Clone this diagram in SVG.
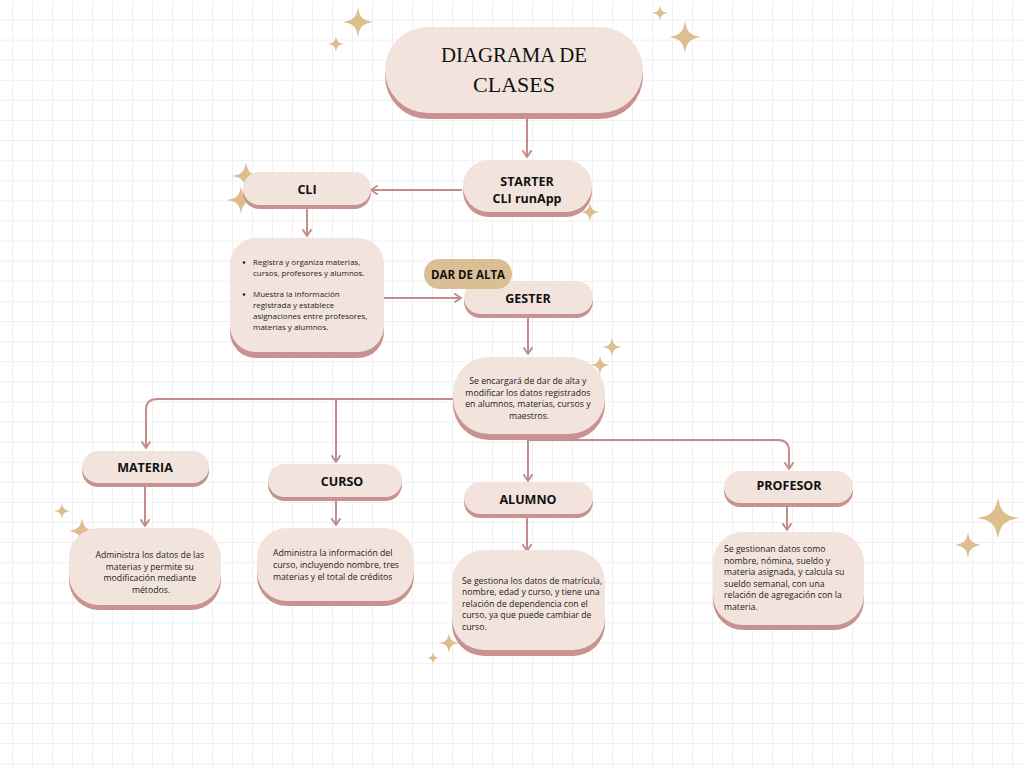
<svg xmlns="http://www.w3.org/2000/svg" xmlns:xlink="http://www.w3.org/1999/xlink" width="1024" height="768" viewBox="0 0 1024 768">
<style>
.node{fill:#f2e4dd}
.shadow{fill:#c7928f}
.conn{fill:none;stroke:#c48d8d;stroke-width:2}
.lbl{font-family:"Open Sans","Liberation Sans",sans-serif;font-weight:bold;font-size:12.5px;fill:#111;text-anchor:middle}
.body{font-family:"Open Sans","Liberation Sans",sans-serif;font-size:8.7px;fill:#222}
.small{font-size:8px}
.mid{text-anchor:middle}
.title{font-family:"Liberation Serif","DejaVu Serif",serif;font-size:22px;fill:#111;text-anchor:middle}
.star{fill:#dcbf8d}
</style>
<defs>
<pattern id="grid" patternUnits="userSpaceOnUse" x="12" y="19.5" width="20" height="20.1">
<path d="M0 0V20.1M0 0H20" stroke="#ebebeb" stroke-width="1.5" fill="none"/>
</pattern>
<path id="star" d="M0,-10 C1.2,-3 3,-1.2 10,0 C3,1.2 1.2,3 0,10 C-1.2,3 -3,1.2 -10,0 C-3,-1.2 -1.2,-3 0,-10Z"/>
<marker id="arr" markerWidth="10" markerHeight="10" refX="7" refY="5" orient="auto" markerUnits="userSpaceOnUse">
<path d="M1,1 L7,5 L1,9" fill="none" stroke="#c48d8d" stroke-width="2" stroke-linecap="round" stroke-linejoin="round"/>
</marker>
</defs>
<rect width="1024" height="768" fill="#ffffff"/>
<rect width="1024" height="768" fill="url(#grid)"/>

<g id="stars" class="star">
<use xlink:href="#star" transform="translate(358,22) scale(1.5)"/>
<use xlink:href="#star" transform="translate(336,44) scale(0.8)"/>
<use xlink:href="#star" transform="translate(660,13) scale(0.8)"/>
<use xlink:href="#star" transform="translate(685,37) scale(1.6)"/>
<use xlink:href="#star" transform="translate(246,176) scale(1.4)"/>
<use xlink:href="#star" transform="translate(241,200) scale(1.4)"/>
<use xlink:href="#star" transform="translate(590,212) scale(0.95)"/>
<use xlink:href="#star" transform="translate(612,347) scale(0.95)"/>
<use xlink:href="#star" transform="translate(600,365) scale(0.95)"/>
<use xlink:href="#star" transform="translate(62,511) scale(0.8)"/>
<use xlink:href="#star" transform="translate(82,531) scale(1.3)"/>
<use xlink:href="#star" transform="translate(449,643) scale(1)"/>
<use xlink:href="#star" transform="translate(433,658) scale(0.6)"/>
<use xlink:href="#star" transform="translate(998,518) scale(2.1)"/>
<use xlink:href="#star" transform="translate(968,545) scale(1.3)"/>
</g>

<g id="connectors">
<path class="conn" d="M527,118 V157" marker-end="url(#arr)"/>
<path class="conn" d="M462,190 H371" marker-end="url(#arr)"/>
<path class="conn" d="M307,209 V236" marker-end="url(#arr)"/>
<path class="conn" d="M384,298 H461" marker-end="url(#arr)"/>
<path class="conn" d="M528,318 V354" marker-end="url(#arr)"/>
<path class="conn" d="M453,399 H157 Q146,399 146,410 V448" marker-end="url(#arr)"/>
<path class="conn" d="M336,399 V462" marker-end="url(#arr)"/>
<path class="conn" d="M528,440 V481" marker-end="url(#arr)"/>
<path class="conn" d="M528,440 H778 Q789,440 789,451 V469" marker-end="url(#arr)"/>
<path class="conn" d="M145,487 V526" marker-end="url(#arr)"/>
<path class="conn" d="M336,501 V525" marker-end="url(#arr)"/>
<path class="conn" d="M527,518 V551" marker-end="url(#arr)"/>
<path class="conn" d="M787,507 V530" marker-end="url(#arr)"/>
</g>

<g id="title">
<rect class="shadow" x="385" y="33" width="258" height="86" rx="43"/>
<rect class="node" x="385" y="27" width="258" height="86" rx="43"/>
<text class="title" x="514" y="62" textLength="146" lengthAdjust="spacingAndGlyphs">DIAGRAMA DE</text>
<text class="title" x="514" y="92" textLength="82" lengthAdjust="spacingAndGlyphs">CLASES</text>
</g>

<g id="starter">
<rect class="shadow" x="463" y="165" width="129" height="52" rx="26"/>
<rect class="node" x="463" y="160" width="129" height="52" rx="26"/>
<text class="lbl" x="527" y="186">STARTER</text>
<text class="lbl" x="527" y="203">CLI runApp</text>
</g>

<g id="cli">
<rect class="shadow" x="243" y="176" width="128" height="33" rx="16.5"/>
<rect class="node" x="243" y="172" width="128" height="33" rx="16.5"/>
<text class="lbl" x="307" y="194">CLI</text>
</g>

<g id="cli-desc">
<rect class="shadow" x="230" y="244" width="154" height="114" rx="26"/>
<rect class="node" x="230" y="238" width="154" height="114" rx="26"/>
<circle cx="244" cy="262.5" r="1.3" fill="#222"/>
<circle cx="244" cy="294.5" r="1.3" fill="#222"/>
<text class="body small">
<tspan x="253" y="265">Registra y organiza materias,</tspan>
<tspan x="253" y="276">cursos, profesores y alumnos.</tspan>
<tspan x="253" y="297">Muestra la información</tspan>
<tspan x="253" y="308">registrada y establece</tspan>
<tspan x="253" y="319">asignaciones entre profesores,</tspan>
<tspan x="253" y="330">materias y alumnos.</tspan>
</text>
</g>

<g id="gester">
<rect class="shadow" x="464" y="285" width="129" height="33" rx="16.5"/>
<rect class="node" x="464" y="281" width="129" height="33" rx="16.5"/>
<text class="lbl" x="528" y="303">GESTER</text>
</g>

<g id="dar-de-alta">
<rect x="424" y="259" width="88" height="30" rx="15" fill="#dbbf94"/>
<text class="lbl" x="468" y="278.5" style="font-size:11.5px">DAR DE ALTA</text>
</g>

<g id="gester-desc">
<rect class="shadow" x="453" y="363" width="152" height="77" rx="36"/>
<rect class="node" x="453" y="357" width="152" height="77" rx="36"/>
<text class="body mid">
<tspan x="529" y="384">Se encargará de dar de alta y</tspan>
<tspan x="529" y="395.5">modificar los datos registrados</tspan>
<tspan x="529" y="407">en alumnos, materias, cursos y</tspan>
<tspan x="529" y="418.5">maestros.</tspan>
</text>
</g>

<g id="materia">
<rect class="shadow" x="82" y="455" width="127" height="32" rx="16"/>
<rect class="node" x="82" y="451" width="127" height="32" rx="16"/>
<text class="lbl" x="145" y="472">MATERIA</text>
</g>

<g id="materia-desc">
<rect class="shadow" x="69" y="533" width="152" height="77" rx="30"/>
<rect class="node" x="69" y="528" width="152" height="77" rx="30"/>
<text class="body mid">
<tspan x="151" y="558">Administra los datos de las</tspan>
<tspan x="151" y="569.5">materias y permite su</tspan>
<tspan x="151" y="581">modificación mediante</tspan>
<tspan x="151" y="592.5">métodos.</tspan>
</text>
</g>

<g id="curso">
<rect class="shadow" x="268" y="468" width="134" height="33" rx="16.5"/>
<rect class="node" x="268" y="464" width="134" height="33" rx="16.5"/>
<text class="lbl" x="342" y="486">CURSO</text>
</g>

<g id="curso-desc">
<rect class="shadow" x="257" y="533" width="157" height="73" rx="30"/>
<rect class="node" x="257" y="528" width="157" height="73" rx="30"/>
<text class="body">
<tspan x="273" y="555.5">Administra la información del</tspan>
<tspan x="273" y="567.5">curso, incluyendo nombre, tres</tspan>
<tspan x="273" y="579.5">materias y el total de créditos</tspan>
</text>
</g>

<g id="alumno">
<rect class="shadow" x="464" y="486" width="129" height="32" rx="16"/>
<rect class="node" x="464" y="482" width="129" height="32" rx="16"/>
<text class="lbl" x="528" y="503.5">ALUMNO</text>
</g>

<g id="alumno-desc">
<rect class="shadow" x="452" y="556" width="153" height="100" rx="32"/>
<rect class="node" x="452" y="550" width="153" height="100" rx="32"/>
<text class="body">
<tspan x="462" y="583.5">Se gestiona los datos de matrícula,</tspan>
<tspan x="462" y="595">nombre, edad y curso, y tiene una</tspan>
<tspan x="462" y="606.5">relación de dependencia con el</tspan>
<tspan x="462" y="618">curso, ya que puede cambiar de</tspan>
<tspan x="462" y="629.5">curso.</tspan>
</text>
</g>

<g id="profesor">
<rect class="shadow" x="724" y="475" width="129" height="32" rx="16"/>
<rect class="node" x="724" y="471" width="129" height="32" rx="16"/>
<text class="lbl" x="789" y="490">PROFESOR</text>
</g>

<g id="profesor-desc">
<rect class="shadow" x="713" y="537" width="151" height="93" rx="30"/>
<rect class="node" x="713" y="532" width="151" height="93" rx="30"/>
<text class="body">
<tspan x="724" y="552">Se gestionan datos como</tspan>
<tspan x="724" y="563.5">nombre, nómina, sueldo y</tspan>
<tspan x="724" y="575">materia asignada, y calcula su</tspan>
<tspan x="724" y="586.5">sueldo semanal, con una</tspan>
<tspan x="724" y="598">relación de agregación con la</tspan>
<tspan x="724" y="609.5">materia.</tspan>
</text>
</g>
</svg>
